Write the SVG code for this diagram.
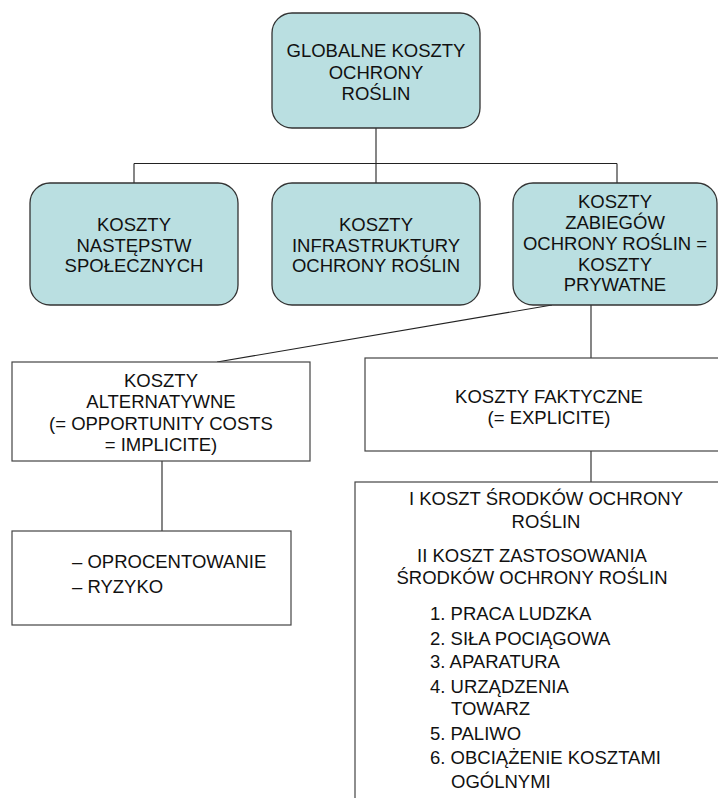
<svg xmlns="http://www.w3.org/2000/svg" width="718" height="798" viewBox="0 0 718 798">
<style>
.rbox{fill:#BADFE1;stroke:#333;stroke-width:1.3}
.box{fill:#fff;stroke:#444;stroke-width:1.2}
.t{font-family:"Liberation Sans",Arial,sans-serif;font-size:18.5px;fill:#111}
.c{text-anchor:middle}
.ln{fill:none;stroke:#222;stroke-width:1.1}
</style>
<rect width="718" height="798" fill="#fff"/>
<g id="connectors">
<line class="ln" x1="376" y1="128" x2="376" y2="183"/>
<line class="ln" x1="134" y1="163.5" x2="617" y2="163.5"/>
<line class="ln" x1="134" y1="163.5" x2="134" y2="183"/>
<line class="ln" x1="617" y1="163.5" x2="617" y2="183"/>
<line class="ln" x1="552" y1="305" x2="217" y2="362"/>
<line class="ln" x1="591" y1="305" x2="591" y2="358"/>
<line class="ln" x1="162" y1="461" x2="162" y2="531"/>
<line class="ln" x1="591" y1="451" x2="591" y2="482"/>
</g>
<g id="n-global">
<rect class="rbox" x="272" y="13" width="208" height="115" rx="20"/>
<text class="t c" x="376" y="57">GLOBALNE KOSZTY</text>
<text class="t c" x="376" y="78.5">OCHRONY</text>
<text class="t c" x="376" y="100">ROŚLIN</text>
</g>
<g id="n-nastepstw">
<rect class="rbox" x="30" y="183" width="208" height="122" rx="20"/>
<text class="t c" x="134" y="231">KOSZTY</text>
<text class="t c" x="134" y="251.5">NASTĘPSTW</text>
<text class="t c" x="134" y="272">SPOŁECZNYCH</text>
</g>
<g id="n-infra">
<rect class="rbox" x="272" y="183" width="208" height="122" rx="20"/>
<text class="t c" x="376" y="231">KOSZTY</text>
<text class="t c" x="376" y="251.5">INFRASTRUKTURY</text>
<text class="t c" x="376" y="272">OCHRONY ROŚLIN</text>
</g>
<g id="n-prywatne">
<rect class="rbox" x="513" y="183" width="204" height="122" rx="20"/>
<text class="t c" x="615" y="208">KOSZTY</text>
<text class="t c" x="615" y="229">ZABIEGÓW</text>
<text class="t c" x="615" y="250">OCHRONY ROŚLIN =</text>
<text class="t c" x="615" y="270.5">KOSZTY</text>
<text class="t c" x="615" y="291">PRYWATNE</text>
</g>
<g id="n-alternatywne">
<rect class="box" x="12" y="362" width="298" height="99"/>
<text class="t c" x="161" y="387">KOSZTY</text>
<text class="t c" x="161" y="408">ALTERNATYWNE</text>
<text class="t c" x="161" y="429.5">(= OPPORTUNITY COSTS</text>
<text class="t c" x="161" y="450.5">= IMPLICITE)</text>
</g>
<g id="n-faktyczne">
<rect class="box" x="365" y="358" width="370" height="93"/>
<text class="t c" x="549" y="403">KOSZTY FAKTYCZNE</text>
<text class="t c" x="549" y="424">(= EXPLICITE)</text>
</g>
<g id="n-oprocentowanie">
<rect class="box" x="12" y="531" width="279" height="94"/>
<text class="t" x="72" y="568">– OPROCENTOWANIE</text>
<text class="t" x="72" y="593">– RYZYKO</text>
</g>
<g id="n-srodki">
<rect class="box" x="355" y="482" width="380" height="330"/>
<text class="t c" x="546" y="505">I KOSZT ŚRODKÓW OCHRONY</text>
<text class="t c" x="546" y="528">ROŚLIN</text>
<text class="t c" x="532" y="562">II KOSZT ZASTOSOWANIA</text>
<text class="t c" x="532" y="584">ŚRODKÓW OCHRONY ROŚLIN</text>
<text class="t" x="430" y="620">1. PRACA LUDZKA</text>
<text class="t" x="430" y="645">2. SIŁA POCIĄGOWA</text>
<text class="t" x="430" y="668">3. APARATURA</text>
<text class="t" x="430" y="693">4. URZĄDZENIA</text>
<text class="t" x="451" y="715">TOWARZ</text>
<text class="t" x="430" y="740">5. PALIWO</text>
<text class="t" x="430" y="764">6. OBCIĄŻENIE KOSZTAMI</text>
<text class="t" x="451" y="788">OGÓLNYMI</text>
</g>
</svg>
